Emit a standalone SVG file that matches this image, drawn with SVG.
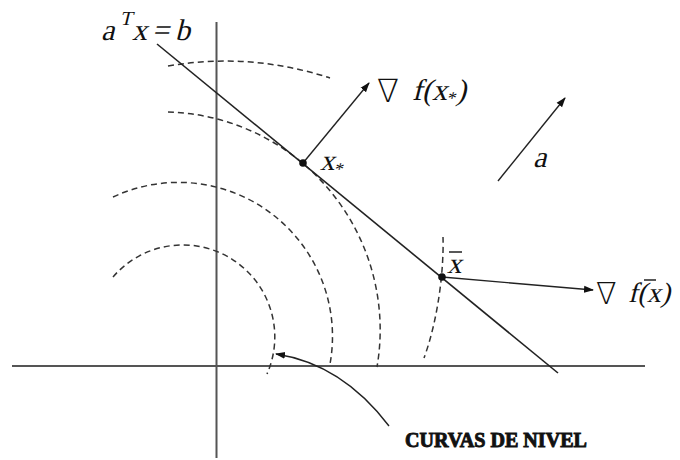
<svg xmlns="http://www.w3.org/2000/svg" width="680" height="460" viewBox="0 0 680 460">
<defs>
<style>
.axis{stroke:#555;stroke-width:2;fill:none}
.line{stroke:#222;stroke-width:1.6;fill:none}
.level{stroke:#333;stroke-width:1.5;fill:none;stroke-dasharray:6 4}
.vec{stroke:#222;stroke-width:1.4;fill:none}
.math{font-family:'Liberation Serif','Times New Roman',serif;font-style:normal;fill:#111}
.nabla{font-family:'DejaVu Sans',sans-serif;font-weight:200;fill:#111}
.lbl{font-family:'Liberation Serif',serif;font-weight:bold;fill:#111;stroke:#111;stroke-width:0.9}
</style>
<marker id="ah" viewBox="0 0 10 10" refX="9" refY="5" markerWidth="10" markerHeight="10" markerUnits="userSpaceOnUse" orient="auto">
<path d="M0,1.5 L10,5 L0,8.5 Z" fill="#111"/>
</marker>
</defs>
<rect width="680" height="460" fill="#fff"/>
<g id="axes">
<line class="axis" x1="12" y1="366" x2="645" y2="366"/>
<line class="axis" x1="216.5" y1="22" x2="216.5" y2="458"/>
</g>
<g id="level-curves">
<path class="level" d="M168,66 Q250,52 330,78"/>
<path class="level" d="M168,112 A218,218 0 0 1 377,367"/>
<path class="level" d="M113,197 A154,154 0 0 1 330,364"/>
<path class="level" d="M113,277 A92,92 0 0 1 267,374"/>
<path class="level" d="M443,237 C444,270 438,320 424,358"/>
</g>
<g id="constraint">
<line class="line" x1="157" y1="44" x2="558" y2="373"/>
<g transform="translate(101,40) skewX(-14)">
<text class="math" font-size="30" x="0" y="0">a</text>
<text class="math" font-size="20" x="15" y="-15">T</text>
<text class="math" font-size="30" x="31" y="0">x</text>
<text class="math" font-size="30" x="51" y="0">=</text>
<text class="math" font-size="30" x="74" y="0">b</text>
</g>
</g>
<g id="connectors">
<line class="vec" x1="303" y1="163" x2="369" y2="83" marker-end="url(#ah)"/>
<line class="vec" x1="442" y1="277" x2="593" y2="290" marker-end="url(#ah)"/>
<line class="vec" x1="498" y1="181" x2="565" y2="98" marker-end="url(#ah)"/>
<path class="vec" d="M389,426 Q342,364 276,354" marker-end="url(#ah)"/>
</g>
<g id="xstar">
<circle cx="303" cy="163" r="3.8" fill="#111"/>
<g transform="translate(320,170) skewX(-14)">
<text class="math" font-size="29" x="0" y="0">x<tspan font-size="18" dy="5">*</tspan></text>
</g>
</g>
<g id="xbar">
<circle cx="442" cy="277" r="3.8" fill="#111"/>
<g transform="translate(447,273) skewX(-14)">
<text class="math" font-size="29" x="0" y="0">x</text>
</g>
<line x1="449" y1="252" x2="462" y2="252" stroke="#111" stroke-width="1.4"/>
</g>
<g id="grad-xstar">
<text class="nabla" font-size="32" x="377" y="102">∇</text>
<g transform="translate(412,100) skewX(-14)">
<text class="math" font-size="30" x="0" y="0">f(x<tspan font-size="18" dy="4">*</tspan><tspan dy="-4">)</tspan></text>
</g>
</g>
<g id="grad-xbar">
<text class="nabla" font-size="30" x="596" y="304">∇</text>
<g transform="translate(628,302) skewX(-14)">
<text class="math" font-size="28" x="0" y="0">f(x)</text>
</g>
<line x1="644" y1="280" x2="656" y2="280" stroke="#111" stroke-width="1.4"/>
</g>
<g id="vec-a">
<g transform="translate(533,167) skewX(-14)">
<text class="math" font-size="30" x="0" y="0">a</text>
</g>
</g>
<g id="curvas-label">
<text class="lbl" font-size="20" x="405" y="447" textLength="182" lengthAdjust="spacingAndGlyphs">CURVAS DE NIVEL</text>
</g>
</svg>
